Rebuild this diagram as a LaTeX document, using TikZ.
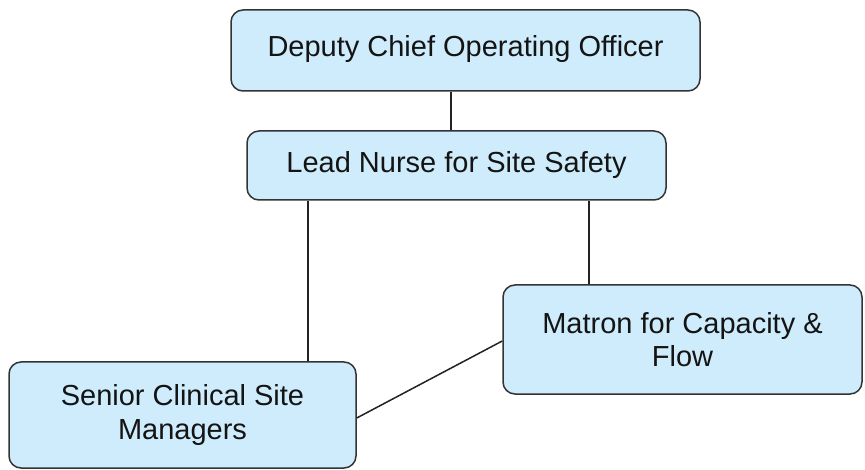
\documentclass[tikz,border=0pt]{standalone}
\usepackage{fontspec}
\setmainfont{Liberation Sans}
\definecolor{boxfill}{RGB}{207,236,252}
\definecolor{boxline}{RGB}{51,51,51}
\definecolor{conline}{RGB}{34,34,34}
\tikzset{
  orgbox/.style={draw=boxline, fill=boxfill, line width=1.5pt, rounded corners=12pt,
    align=center, inner sep=0pt, font=\fontsize{29}{33.5}\selectfont, text=black!92},
  conn/.style={draw=conline, line width=1.5pt}
}
\begin{document}
\begin{tikzpicture}[x=1pt,y=-1pt]
\useasboundingbox (0,0) rectangle (865,470);
\node[orgbox, minimum width=469pt, minimum height=81pt, text depth=9pt] (dcoo) at (465.5,50.5) {Deputy Chief Operating Officer};
\node[orgbox, minimum width=419pt, minimum height=69pt] (lead) at (456.5,165.5) {Lead Nurse for Site Safety};
\node[orgbox, minimum width=359pt, minimum height=109pt] (matron) at (682.5,339.5) {Matron for Capacity \&\\Flow};
\node[orgbox, minimum width=347pt, minimum height=106pt] (scsm) at (182.5,415) {Senior Clinical Site\\Managers};
\coordinate (c1) at (451,0);
\coordinate (c2) at (308,0);
\coordinate (c3) at (589,0);
\draw[conn] (dcoo.south -| c1) -- (lead.north -| c1);
\draw[conn] (lead.south -| c2) -- (scsm.north -| c2);
\draw[conn] (lead.south -| c3) -- (matron.north -| c3);
\draw[conn] ([yshift=-3pt]scsm.east) -- ([yshift=-1.5pt]matron.west);
\end{tikzpicture}
\end{document}
